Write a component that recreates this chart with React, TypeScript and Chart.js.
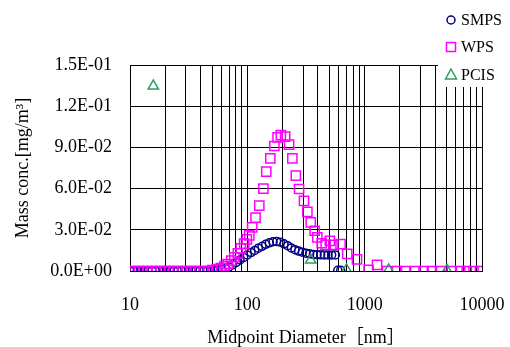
import React, { useEffect, useRef } from 'react';
import { Chart, registerables } from 'chart.js';

Chart.register(...registerables);

// ---- data (diameter in nm, mass conc. in mg/m3) ----
const smpsDiameters = [
  10.0, 10.7, 11.5, 12.4, 13.3, 14.3, 15.4, 16.5, 17.8, 19.1, 20.5, 22.1, 23.7, 25.5, 27.4, 29.4,
  31.6, 34.0, 36.5, 39.2, 42.2, 45.3, 48.7, 52.3, 56.2, 60.4, 64.9, 69.8, 75.0, 80.6, 86.6, 93.1,
  100, 107.5, 115.5, 124.1, 133.4, 143.3, 154.0, 165.5, 177.8, 191.1, 205.4, 220.7, 237.1, 254.8,
  273.8, 294.3, 316.2, 339.8, 365.2, 392.4, 421.7, 453.2, 487.0, 523.3, 562.3, 590, 625,
];
const smpsMass = [
  0, 0, 0, 0, 0, 0, 0, 0, 0, 0, 0, 0, 0, 0, 0, 0,
  0, 0, 0, 0, 0, 0, 0.0002, 0.0004, 0.0007, 0.0012, 0.002, 0.003, 0.0045, 0.0062, 0.008, 0.0099,
  0.0117, 0.0134, 0.015, 0.0166, 0.018, 0.0194, 0.0205, 0.0213, 0.0215, 0.021, 0.0198, 0.0184, 0.0168, 0.0155,
  0.0145, 0.0137, 0.013, 0.0125, 0.0121, 0.0119, 0.0118, 0.0117, 0.0117, 0.0117, 0.0117, 0.0005, 0.0005,
];

const wpsDiameters = [
  10.0, 10.9, 11.9, 12.9, 14.1, 15.3, 16.7, 18.2, 19.8, 21.5, 23.4, 25.5, 27.8, 30.2, 32.9, 35.8,
  39.0, 42.5, 46.2, 50.3, 54.8, 59.6, 64.0, 68.0, 73.0, 77.5, 83.0, 88.0, 94.0, 99.0, 104, 110,
  117.5, 126.5, 137, 145, 157, 170, 181, 193, 210, 227, 242, 259, 276, 304, 325, 347, 375, 395,
  430, 465, 505, 540, 623, 710, 860, 1081, 1275, 1551, 1887, 2219, 2703, 3177, 3746, 4398, 5537,
  6516, 7420, 8468, 9630,
];
const wpsMass = [
  0, 0, 0, 0, 0, 0, 0, 0, 0, 0, 0, 0, 0, 0, 0, 0,
  0, 0, 0, 0.0007, 0.0013, 0.0022, 0.0036, 0.0051, 0.0075, 0.01, 0.0129, 0.0165, 0.02, 0.023, 0.026, 0.0318,
  0.0388, 0.0476, 0.06, 0.0723, 0.082, 0.091, 0.0973, 0.099, 0.0978, 0.092, 0.082, 0.0694, 0.0597, 0.051, 0.043, 0.0354, 0.0293, 0.0245,
  0.0202, 0.019, 0.022, 0.019, 0.0195, 0.0124, 0.0085, 0.0008, 0.0044, 0, 0, 0, 0, 0, 0, 0, 0,
  0, 0, 0, 0,
];

const pcisDiameters = [15.8, 347, 700, 1600, 5020];
const pcisMass = [0.1347, 0.008, 0.0008, 0.0008, 0.0006];

const seriesNames = ['SMPS', 'WPS', 'PCIS'];

const xTickValues = [
  10, 20, 30, 40, 50, 60, 70, 80, 90,
  100, 200, 300, 400, 500, 600, 700, 800, 900,
  1000, 2000, 3000, 4000, 5000, 6000, 7000, 8000, 9000,
  10000,
];
const xLabelValues = [10, 100, 1000, 10000];
const xLabelTexts = ['10', '100', '1000', '10000'];

const yTickValues = [0, 0.03, 0.06, 0.09, 0.12, 0.15];
const yTickLabels = ['0.0E+00', '3.0E-02', '6.0E-02', '9.0E-02', '1.2E-01', '1.5E-01'];

const xTitle = 'Midpoint Diameter［nm］';
const yTitle = 'Mass conc.[mg/m³]';

const SERIF = "'Liberation Serif', 'Times New Roman', 'Noto Sans CJK JP', serif";
const COLORS = ['#000080', '#FF00FF', '#339966'];

const legendPlugin = {
  id: 'boxLegend',
  afterDraw(chart: any) {
    const ctx: CanvasRenderingContext2D = chart.ctx;
    ctx.save();
    ctx.fillStyle = '#ffffff';
    ctx.fillRect(438, 0, 72, 87);
    const ys = [20, 47, 75];
    const mx = 451;
    ctx.lineWidth = 1.5;
    seriesNames.forEach((name, i) => {
      const y = ys[i];
      ctx.strokeStyle = COLORS[i];
      ctx.beginPath();
      if (i === 0) {
        ctx.arc(mx, y, 4, 0, Math.PI * 2);
      } else if (i === 1) {
        ctx.rect(mx - 4.5, y - 4.5, 9, 9);
      } else {
        ctx.moveTo(mx, y - 6);
        ctx.lineTo(mx + 5.5, y + 4);
        ctx.lineTo(mx - 5.5, y + 4);
        ctx.closePath();
      }
      ctx.stroke();
      ctx.fillStyle = '#000';
      ctx.font = `16px ${SERIF}`;
      ctx.textBaseline = 'middle';
      ctx.textAlign = 'left';
      ctx.fillText(name, 461, y + 1);
    });
    ctx.restore();
  },
};

export default function App() {
  const ref = useRef<HTMLCanvasElement>(null);
  useEffect(() => {
    const mk = (xs: number[], ys: number[]) => xs.map((x, i) => ({ x, y: ys[i] }));
    const chart = new Chart(ref.current as HTMLCanvasElement, {
      type: 'scatter',
      data: {
        datasets: [
          {
            label: seriesNames[2],
            data: mk(pcisDiameters, pcisMass),
            pointStyle: 'triangle',
            pointRadius: 6,
            borderColor: COLORS[2],
            backgroundColor: 'transparent',
            pointBorderWidth: 1.5,
            order: 0,
          },
          {
            label: seriesNames[1],
            data: mk(wpsDiameters, wpsMass),
            pointStyle: 'rect',
            pointRadius: 6.5,
            borderColor: COLORS[1],
            backgroundColor: 'transparent',
            pointBorderWidth: 1.5,
            order: 1,
          },
          {
            label: seriesNames[0],
            data: mk(smpsDiameters, smpsMass),
            pointStyle: 'circle',
            pointRadius: 4,
            borderColor: COLORS[0],
            backgroundColor: 'transparent',
            pointBorderWidth: 1.5,
            order: 2,
          },
        ] as any,
      },
      options: {
        animation: false,
        responsive: true,
        maintainAspectRatio: false,
        layout: { padding: { left: 0, right: 28, top: 65, bottom: 0 } },
        plugins: { legend: { display: false }, tooltip: { enabled: false } },
        scales: {
          x: {
            type: 'logarithmic',
            min: 10,
            max: 10000,
            afterFit: (s: any) => { s.height = 76; },
            afterBuildTicks: (s: any) => { s.ticks = xTickValues.map((v) => ({ value: v })); },
            ticks: {
              autoSkip: false,
              maxRotation: 0,
              minRotation: 0,
              padding: 0,
              color: '#000',
              font: { family: SERIF, size: 18 },
              callback: (v: any) => {
                const k = xLabelValues.indexOf(Number(v));
                return k >= 0 ? xLabelTexts[k] : '';
              },
            },
            grid: { color: '#000', lineWidth: 1, drawTicks: true, tickLength: 23, tickColor: 'rgba(0,0,0,0)' },
            border: { display: true, color: '#000', width: 1 },
            title: {
              display: true,
              text: xTitle,
              color: '#000',
              font: { family: SERIF, size: 18, lineHeight: 1 },
              padding: { top: 0, bottom: 0 },
            },
          },
          y: {
            type: 'linear',
            min: 0,
            max: 0.15,
            afterFit: (s: any) => { s.width = 130; },
            afterBuildTicks: (s: any) => { s.ticks = yTickValues.map((v) => ({ value: v })); },
            ticks: {
              padding: 18,
              color: '#000',
              font: { family: SERIF, size: 18 },
              callback: (_v: any, i: number) => yTickLabels[i],
            },
            grid: { color: '#000', lineWidth: 1, drawTicks: false },
            border: { display: true, color: '#000', width: 1 },
            title: {
              display: true,
              text: yTitle,
              color: '#000',
              font: { family: SERIF, size: 18 },
              padding: { top: 12, bottom: 0 },
            },
          },
        },
      } as any,
      plugins: [legendPlugin],
    });
    return () => chart.destroy();
  }, []);
  return (
    <div style={{ position: 'fixed', left: 0, top: 0, width: 510, height: 347, background: '#fff' }}>
      <canvas ref={ref} />
    </div>
  );
}
